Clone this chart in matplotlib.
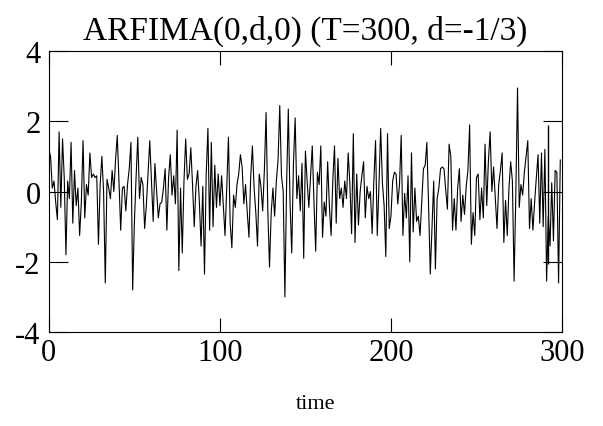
import matplotlib
matplotlib.use("Agg")
import matplotlib.pyplot as plt
import numpy as np

# valores (t = 0..299)
serie = [
    1.2, 1.0, 0.1, 0.3, -0.3, -0.8, 1.7, -0.45, 1.5, 0.4,
    -1.8, 0.3, -0.2, 1.4, -0.9, 0.6, -0.4, 0.1, -1.25, -0.3,
    1.45, -0.75, 0.2, -0.1, 1.1, 0.4, 0.5, 0.4, 0.45, -1.5,
    0.2, 1.0, 0.0, -2.6, 0.35, 0.1, -0.2, 0.6, 0.0, 0.9,
    1.6, 0.3, -1.1, 0.1, 0.15, -0.55, 0.2, 0.65, 1.4, -2.8,
    -0.9, 0.4, 1.55, -0.2, 0.4, 0.2, -1.05, -0.4, 0.5, 1.45,
    0.3, -0.85, 0.8, 0.0, -0.75, -0.35, -0.3, 0.1, 0.65, -1.1,
    0.4, 1.05, -0.1, 0.45, -0.35, 1.75, -2.25, 0.1, -1.75, 0.3,
    1.5, 0.35, 0.5, 1.25, 0.2, -1.0, 0.15, 0.6, -0.3, -1.55,
    0.15, -2.35, 0.5, 1.8, -1.1, 1.4, -1.0, 0.75, -0.45, 0.5,
    -0.4, 0.45, -0.4, -1.25, 0.1, 1.55, -0.9, -1.6, -0.1, -0.45,
    0.2, 0.5, 1.05, 0.7, -0.35, 0.2, -0.6, -1.3, 0.4, 1.3,
    0.1, -0.6, -1.55, 0.5, 0.15, -0.55, 0.6, 2.25, -0.5, -2.15,
    -0.6, 0.1, -0.7, 0.3, 0.9, 2.45, 0.45, 0.0, -3.0, 0.2,
    2.35, -0.3, -1.75, 0.8, 2.1, -0.2, 0.45, -0.55, 0.8, -1.9,
    1.15, 0.3, -0.45, 0.45, 1.3, -0.3, -1.7, 0.55, 0.2, 1.3,
    -1.3, -0.3, -0.7, 0.85, -0.4, -1.25, 0.3, 1.3, -0.9, 0.95,
    -0.2, 0.1, -0.45, 0.3, -0.2, 1.1, 0.2, -1.2, 1.65, -1.45,
    0.5, -0.95, 0.0, 0.45, 0.85, -0.75, 0.15, -0.2, 0.0, -1.2,
    0.3, 1.45, -1.25, 0.2, 1.8, 0.25, -0.4, -1.85, 1.65, -1.05,
    -0.7, 0.3, 0.55, 0.5, -0.35, 0.2, 1.6, -1.25, -0.05, -0.75,
    0.45, -2.0, 1.1, -1.15, 0.1, -0.85, -0.7, -1.25, -0.3, 0.65,
    0.75, 1.4, -0.4, -2.35, -1.05, 0.3, -2.2, -0.2, 0.1, 0.65,
    0.7, 0.65, 0.05, -0.5, 1.35, 1.0, -1.1, -0.2, -1.1, 0.1,
    0.65, -0.85, -0.1, -0.65, 0.15, 0.6, 1.9, -1.5, -0.6, -1.25,
    0.4, 0.5, -0.8, 0.1, -0.75, 1.35, -0.4, 0.9, 1.7, 0.0,
    0.7, -0.2, -1.05, 0.2, 0.6, 1.1, -1.45, -0.25, -1.25, 0.1,
    0.85, 0.3, -2.55, -0.1, 2.95, -0.45, 0.2, -0.1, 0.55, 1.0,
    1.45, -1.05, -0.2, -1.1, -0.3, 0.4, 1.05, -0.9, 1.1, -1.0,
    1.2, -2.55, -0.7, -1.55, 0.25, -1.4, 0.6, 0.55, -2.6, 0.9,
]
tiempo = np.arange(len(serie))

xticks = [0, 100, 200, 300]
yticks = [-4, -2, 0, 2, 4]

plt.rcParams['font.family'] = ['Liberation Serif', 'DejaVu Serif']
plt.rcParams['axes.unicode_minus'] = False

fig = plt.figure(figsize=(6.03, 4.27), dpi=100)
ax = fig.add_axes([0.081, 0.220, 0.851, 0.658])

ax.plot(tiempo, serie, color='black', linewidth=0.8)

# marco de la derecha que aparece en el original
ax.vlines(291.6, -2.05, 1.9, color='black', linewidth=1.0)

ax.set_xlim(0, 300)
ax.set_ylim(-4, 4)
ax.set_xticks(xticks)
ax.set_yticks(yticks)
ax.tick_params(direction='in', length=10, width=0.8, top=True, right=True,
               labelsize=22, pad=4)
ax.tick_params(axis='y', length=14, pad=6)
for s in ax.spines.values():
    s.set_linewidth(0.8)

ax.set_title('ARFIMA(0,d,0) (T=300, d=-1/3)', fontsize=24, pad=9)
ax.set_xlabel('time', fontsize=16, labelpad=22)
ax.xaxis.set_label_coords(0.52, -0.22)

fig.savefig('out.png', dpi=100)
